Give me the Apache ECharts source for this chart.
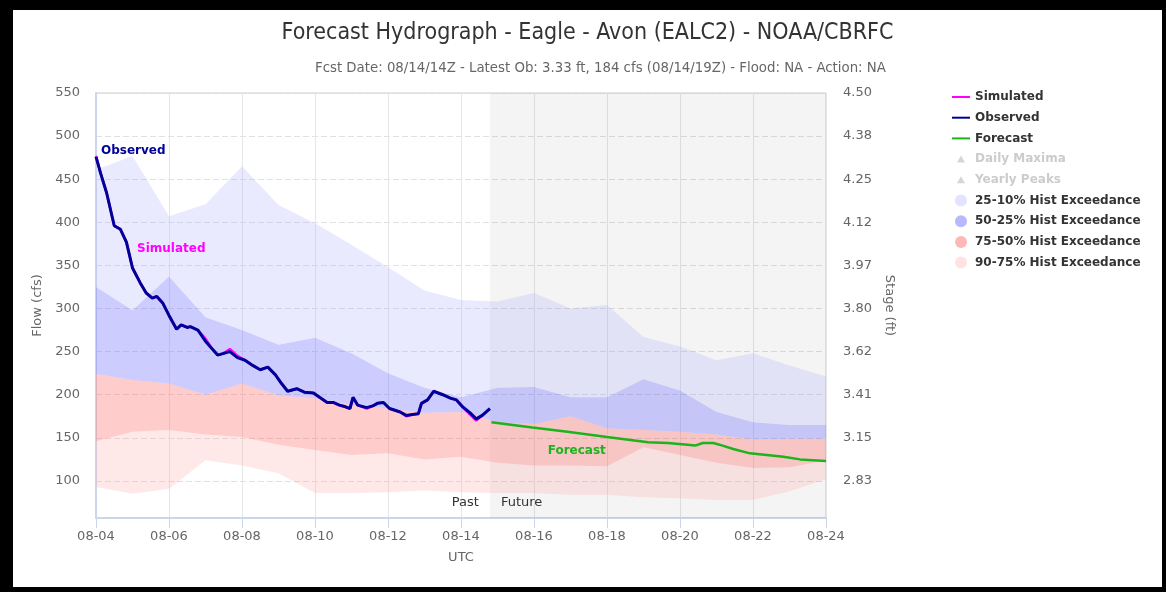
<!DOCTYPE html>
<html>
<head>
<meta charset="utf-8">
<title>Forecast Hydrograph - Eagle - Avon (EALC2)</title>
<script src="https://cdn.jsdelivr.net/npm/echarts@6/dist/echarts.min.js"></script>
<style>
  html, body { margin: 0; padding: 0; background: #000; }
  #chart { position: absolute; left: 13px; top: 10px; width: 1149px; height: 577px; background: #fff; }
</style>
</head>
<body>
<div id="chart"></div>
<script>
// x is hours since 08-04 00Z
const xTickLabels = ['08-04', '08-06', '08-08', '08-10', '08-12', '08-14', '08-16', '08-18', '08-20', '08-22', '08-24'];
const flowTicks = [100, 150, 200, 250, 300, 350, 400, 450, 500, 550];
const stageLabels = ['2.83', '3.15', '3.41', '3.62', '3.80', '3.97', '4.12', '4.25', '4.38', '4.50'];
const latestObHour = 259;

// observed / simulated (hourly obs)
const obsHours = [0, 3, 7, 12, 16, 20, 24, 29, 33, 37, 40, 44, 48, 53, 56, 60, 62, 67, 72, 76,
  80, 84, 88, 93, 98, 103, 108, 113, 118, 122, 126, 132, 137, 143, 147, 152, 156, 160, 164, 167,
  169, 172, 178, 182, 185, 189, 193, 200, 204, 208, 212, 214, 218, 222, 228, 233, 237, 241, 246, 250,
  254, 259];
const observedFlow = [476, 457, 434, 396, 392, 377, 347, 330, 318, 312, 314, 306, 292, 276, 281, 278, 279, 275, 262, 254,
  246, 248, 250, 243, 240, 234, 229, 232, 223, 213, 204, 207, 203, 202, 197, 191, 191, 188, 186, 184,
  197, 188, 185, 187, 190, 191, 184, 180, 176, 177, 178, 190, 194, 204, 200, 196, 194, 186, 179, 172,
  176, 184];
const simulatedFlow = [477, 457, 434, 396, 392, 377, 347, 330, 318, 312, 314, 306, 292, 276, 281, 278, 279, 275, 265, 254,
  246, 248, 253, 245, 240, 234, 229, 232, 223, 213, 204, 207, 203, 202, 197, 191, 191, 188, 186, 184,
  197, 188, 184, 187, 190, 191, 184, 180, 175, 177, 178, 190, 194, 204, 200, 196, 194, 186, 177, 170,
  176, 184];

// forecast
const forecastHours = [260, 287, 310, 336, 363, 376, 389, 394, 399, 406, 412, 419, 430, 441, 452, 463, 480];
const forecastFlow = [168, 162, 157, 151, 145, 144, 142, 141, 144, 144, 141, 137, 132, 130, 128, 125, 123];

// historical exceedance, daily
const dayHours = [0, 24, 48, 72, 96, 120, 144, 168, 192, 216, 240, 264, 288, 312, 336, 360, 384, 408, 432, 456, 480];
const exceed10 = [461, 477, 407, 421, 465, 420, 399, 374, 348, 321, 310, 308, 318, 300, 304, 267, 256, 240, 248, 234, 221];
const exceed25 = [325, 298, 337, 290, 275, 258, 266, 248, 225, 208, 197, 208, 209, 197, 197, 218, 205, 180, 168, 165, 165];
const exceed50 = [224, 217, 213, 200, 213, 199, 196, 188, 184, 179, 180, 168, 166, 175, 161, 159, 157, 154, 148, 149, 149];
const exceed75 = [146, 157, 159, 154, 151, 142, 136, 130, 132, 125, 128, 121, 118, 118, 117, 139, 130, 121, 115, 116, 124];
const exceed90 = [93, 85, 91, 124, 118, 109, 86, 86, 87, 89, 87, 86, 86, 84, 84, 81, 80, 78, 78, 88, 102];

const dailyMaxima = [];
const yearlyPeaks = [];

const FONT = 'DejaVu Sans';
const pairs = (xs, ys) => xs.map((x, i) => [x, ys[i]]);

const lineIcon = 'path://M0,5L18,5L18,7L0,7Z';
const triIcon = 'path://M0,0L0.01,0L0,0.01Z M12,12L11.99,12L12,11.99Z M6,2.5L10,9.5L2,9.5Z';

// one filled polygon between two exceedance curves
function band(name, lo, hi, fill, icon) {
  return {
    name: name, type: 'custom', z: 1, silent: true,
    itemStyle: { color: icon },
    data: dayHours.map((h, i) => [h, lo[i], hi[i]]),
    encode: { x: 0, y: [1, 2] },
    renderItem: function (params, api) {
      if (params.dataIndex !== 0) return null;
      const top = dayHours.map((h, i) => api.coord([h, hi[i]]));
      const bottom = dayHours.map((h, i) => api.coord([h, lo[i]])).reverse();
      return { type: 'polygon', silent: true, shape: { points: top.concat(bottom) }, style: { fill: fill } };
    }
  };
}

function seriesLabel(text, coord, color) {
  return {
    symbol: 'circle', symbolSize: 0, silent: true,
    data: [{ coord: coord }],
    label: { show: true, formatter: text, position: 'right', distance: 0,
      color: color, fontFamily: FONT, fontWeight: 'bold', fontSize: 12 }
  };
}

const chart = echarts.init(document.getElementById('chart'));
chart.setOption({
  animation: false,
  backgroundColor: '#fff',
  title: [
    { text: 'Forecast Hydrograph - Eagle - Avon (EALC2) - NOAA/CBRFC', left: 'center', top: 7,
      textStyle: { fontFamily: 'DejaVu Sans Condensed', fontWeight: 'normal', fontSize: 23, color: '#333' } },
    { text: 'Fcst Date: 08/14/14Z - Latest Ob: 3.33 ft, 184 cfs (08/14/19Z) - Flood: NA - Action: NA', left: 297, top: 46,
      textStyle: { fontFamily: 'DejaVu Sans Condensed', fontWeight: 'normal', fontSize: 14.8, color: '#666' } }
  ],
  legend: {
    orient: 'vertical', left: 934, top: 75,
    itemWidth: 18, itemHeight: 12, itemGap: 6.7,
    inactiveColor: '#cccccc',
    textStyle: { fontFamily: FONT, fontWeight: 'bold', fontSize: 12, color: '#333', lineHeight: 14 },
    selected: { 'Daily Maxima': false, 'Yearly Peaks': false },
    data: [
      { name: 'Simulated', icon: lineIcon },
      { name: 'Observed', icon: lineIcon },
      { name: 'Forecast', icon: lineIcon },
      { name: 'Daily Maxima', icon: triIcon },
      { name: 'Yearly Peaks', icon: triIcon },
      { name: '25-10% Hist Exceedance', icon: 'circle' },
      { name: '50-25% Hist Exceedance', icon: 'circle' },
      { name: '75-50% Hist Exceedance', icon: 'circle' },
      { name: '90-75% Hist Exceedance', icon: 'circle' }
    ]
  },
  grid: { left: 83, right: 336, top: 83, bottom: 69, show: true, borderColor: '#cccccc', borderWidth: 1 },
  xAxis: {
    type: 'value', min: 0, max: 480, interval: 48,
    name: 'UTC', nameLocation: 'middle', nameGap: 33,
    nameTextStyle: { fontFamily: FONT, fontSize: 13, color: '#666' },
    axisLine: { show: true, lineStyle: { color: '#ccd6eb', width: 2 } },
    axisTick: { show: true, length: 10, lineStyle: { color: '#ccd6eb' } },
    axisLabel: { margin: 12, fontFamily: FONT, fontSize: 13, color: '#666',
      formatter: v => xTickLabels[Math.round(v / 48)] },
    splitLine: { show: true, lineStyle: { color: '#e6e6e6', width: 1 } }
  },
  yAxis: [
    {
      type: 'value', min: 57, max: 550,
      name: 'Flow (cfs)', nameLocation: 'middle', nameGap: 50, nameRotate: 90,
      nameTextStyle: { fontFamily: FONT, fontSize: 13, color: '#666' },
      axisLine: { show: true, lineStyle: { color: '#ccd6eb', width: 2 } },
      axisTick: { show: false, customValues: flowTicks },
      axisLabel: { customValues: flowTicks, margin: 16, fontFamily: FONT, fontSize: 13, color: '#666' },
      splitLine: { show: true, lineStyle: { color: '#e0e0e0', type: [6, 3] } }
    },
    {
      type: 'value', min: 57, max: 550, position: 'right',
      name: 'Stage (ft)', nameLocation: 'middle', nameGap: 56, nameRotate: -90,
      nameTextStyle: { fontFamily: FONT, fontSize: 13, color: '#666' },
      axisLine: { show: false },
      axisTick: { show: false, customValues: flowTicks },
      axisLabel: { customValues: flowTicks, margin: 17, fontFamily: FONT, fontSize: 13, color: '#666',
        formatter: v => stageLabels[flowTicks.indexOf(v)] },
      splitLine: { show: false }
    }
  ],
  series: [
    band('90-75% Hist Exceedance', exceed90, exceed75, 'rgba(255,170,170,0.27)', '#ffe3e3'),
    band('75-50% Hist Exceedance', exceed75, exceed50, 'rgba(255,110,110,0.35)', '#ffb8b8'),
    band('50-25% Hist Exceedance', exceed50, exceed25, 'rgba(110,110,255,0.35)', '#b8b8ff'),
    band('25-10% Hist Exceedance', exceed25, exceed10, 'rgba(180,180,255,0.28)', '#e3e3ff'),
    {
      name: 'Simulated', type: 'line', data: pairs(obsHours, simulatedFlow), symbol: 'none', z: 3,
      itemStyle: { color: '#ff00ff' }, lineStyle: { color: '#ff00ff', width: 2.5 },
      markPoint: seriesLabel('Simulated', [27, 369], '#ff00ff')
    },
    {
      name: 'Observed', type: 'line', data: pairs(obsHours, observedFlow), symbol: 'none', z: 4,
      itemStyle: { color: '#000099' }, lineStyle: { color: '#000099', width: 3 },
      markPoint: seriesLabel('Observed', [3.3, 483], '#000099')
    },
    {
      name: 'Forecast', type: 'line', data: pairs(forecastHours, forecastFlow), symbol: 'none', z: 4,
      itemStyle: { color: '#1db31d' }, lineStyle: { color: '#1db31d', width: 2.5 },
      markPoint: seriesLabel('Forecast', [297, 135], '#1db31d'),
      // past / future split at the latest observation
      markArea: {
        silent: true,
        label: { fontFamily: FONT, fontSize: 13, color: '#333', distance: 11, offset: [0, 2] },
        data: [
          [{ xAxis: 0, itemStyle: { color: 'rgba(0,0,0,0)' }, label: { formatter: 'Past', position: 'insideBottomRight' } },
           { xAxis: latestObHour }],
          [{ xAxis: latestObHour, itemStyle: { color: 'rgba(0,0,0,0.045)' }, label: { formatter: 'Future', position: 'insideBottomLeft' } },
           { xAxis: 480 }]
        ]
      }
    },
    { name: 'Daily Maxima', type: 'scatter', data: dailyMaxima, symbol: 'triangle', itemStyle: { color: '#666' } },
    { name: 'Yearly Peaks', type: 'scatter', data: yearlyPeaks, symbol: 'triangle', itemStyle: { color: '#666' } }
  ]
});
</script>
</body>
</html>
